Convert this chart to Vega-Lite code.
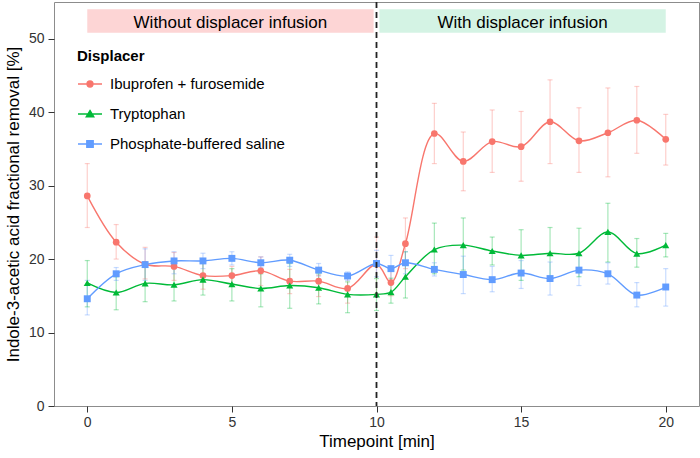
{
  "$schema": "https://vega.github.io/schema/vega-lite/v6.json",
  "width": 645,
  "height": 404,
  "autosize": {"type": "none"},
  "padding": {"left": 54, "top": 2, "right": 1, "bottom": 52},
  "background": "white",
  "config": {
    "font": "Liberation Sans",
    "view": {"stroke": "#8c8c8c", "strokeWidth": 1},
    "axis": {"grid": false, "domain": false, "tickColor": "#333333", "tickSize": 6, "labelColor": "#333333", "labelFontSize": 14, "titleFontSize": 17, "titleFontWeight": "normal", "titleColor": "black"},
    "legend": {"orient": "none", "padding": 0, "labelFontSize": 15, "labelColor": "black", "labelOffset": 7, "labelLimit": 300, "symbolSize": 576, "symbolStrokeWidth": 1.3, "symbolOpacity": 1, "titleFontSize": 15, "titleFontWeight": "bold", "titleColor": "black", "titlePadding": 7}
  },
  "datasets": {
    "bands": [
      {"label": "Without displacer infusion", "x0": 0, "x1": 9.9, "xc": 4.95, "y0": 50.8, "y1": 54.0, "yc": 52.1},
      {"label": "With displacer infusion", "x0": 10.1, "x1": 20, "xc": 15.05, "y0": 50.8, "y1": 54.0, "yc": 52.1}
    ],
    "vline": [{"x": 10}],
    "leg": [
      {"L1": "Ibuprofen + furosemide", "L2": "Tryptophan", "L3": "Phosphate-buffered saline"}
    ],
    "series": [
      {"d": "Ibuprofen + furosemide", "t": 0, "m": 28.6, "lo": 24.3, "hi": 33.0},
      {"d": "Ibuprofen + furosemide", "t": 1, "m": 22.3, "lo": 20.0, "hi": 24.7},
      {"d": "Ibuprofen + furosemide", "t": 2, "m": 19.3, "lo": 17.3, "hi": 21.6},
      {"d": "Ibuprofen + furosemide", "t": 3, "m": 19.0, "lo": 17.1, "hi": 20.9},
      {"d": "Ibuprofen + furosemide", "t": 4, "m": 17.75, "lo": 15.9, "hi": 19.5},
      {"d": "Ibuprofen + furosemide", "t": 5, "m": 17.75, "lo": 16.6, "hi": 19.0},
      {"d": "Ibuprofen + furosemide", "t": 6, "m": 18.4, "lo": 16.4, "hi": 20.3},
      {"d": "Ibuprofen + furosemide", "t": 7, "m": 17.0, "lo": 15.3, "hi": 18.6},
      {"d": "Ibuprofen + furosemide", "t": 8, "m": 17.0, "lo": 14.9, "hi": 17.8},
      {"d": "Ibuprofen + furosemide", "t": 9, "m": 16.0, "lo": 14.0, "hi": 17.6},
      {"d": "Ibuprofen + furosemide", "t": 10, "m": 19.3, "lo": 15.3, "hi": 23.0},
      {"d": "Ibuprofen + furosemide", "t": 10.5, "m": 16.8, "lo": 15.0, "hi": 18.6},
      {"d": "Ibuprofen + furosemide", "t": 11, "m": 22.1, "lo": 18.7, "hi": 25.6},
      {"d": "Ibuprofen + furosemide", "t": 12, "m": 37.1, "lo": 33.0, "hi": 41.2},
      {"d": "Ibuprofen + furosemide", "t": 13, "m": 33.3, "lo": 29.3, "hi": 37.3},
      {"d": "Ibuprofen + furosemide", "t": 14, "m": 36.0, "lo": 31.8, "hi": 40.3},
      {"d": "Ibuprofen + furosemide", "t": 15, "m": 35.3, "lo": 30.6, "hi": 40.1},
      {"d": "Ibuprofen + furosemide", "t": 16, "m": 38.7, "lo": 33.0, "hi": 44.4},
      {"d": "Ibuprofen + furosemide", "t": 17, "m": 36.1, "lo": 31.8, "hi": 40.6},
      {"d": "Ibuprofen + furosemide", "t": 18, "m": 37.2, "lo": 31.2, "hi": 43.3},
      {"d": "Ibuprofen + furosemide", "t": 19, "m": 38.9, "lo": 34.4, "hi": 43.5},
      {"d": "Ibuprofen + furosemide", "t": 20, "m": 36.3, "lo": 32.8, "hi": 39.7},
      {"d": "Tryptophan", "t": 0, "m": 16.75, "lo": 13.5, "hi": 19.8},
      {"d": "Tryptophan", "t": 1, "m": 15.45, "lo": 13.1, "hi": 17.6},
      {"d": "Tryptophan", "t": 2, "m": 16.7, "lo": 14.2, "hi": 19.4},
      {"d": "Tryptophan", "t": 3, "m": 16.5, "lo": 14.3, "hi": 19.4},
      {"d": "Tryptophan", "t": 4, "m": 17.2, "lo": 15.1, "hi": 19.6},
      {"d": "Tryptophan", "t": 5, "m": 16.6, "lo": 14.3, "hi": 18.7},
      {"d": "Tryptophan", "t": 6, "m": 16.0, "lo": 13.5, "hi": 18.0},
      {"d": "Tryptophan", "t": 7, "m": 16.4, "lo": 13.3, "hi": 19.4},
      {"d": "Tryptophan", "t": 8, "m": 16.1, "lo": 13.9, "hi": 18.0},
      {"d": "Tryptophan", "t": 9, "m": 15.2, "lo": 12.7, "hi": 16.9},
      {"d": "Tryptophan", "t": 10, "m": 15.2, "lo": 13.0, "hi": 17.35},
      {"d": "Tryptophan", "t": 10.5, "m": 15.5, "lo": 14.0, "hi": 17.4},
      {"d": "Tryptophan", "t": 11, "m": 17.6, "lo": 14.7, "hi": 21.0},
      {"d": "Tryptophan", "t": 12, "m": 21.3, "lo": 18.0, "hi": 24.9},
      {"d": "Tryptophan", "t": 13, "m": 21.9, "lo": 18.5, "hi": 25.6},
      {"d": "Tryptophan", "t": 14, "m": 21.1, "lo": 19.2, "hi": 23.0},
      {"d": "Tryptophan", "t": 15, "m": 20.5, "lo": 17.1, "hi": 24.0},
      {"d": "Tryptophan", "t": 16, "m": 20.8, "lo": 17.4, "hi": 24.3},
      {"d": "Tryptophan", "t": 17, "m": 20.8, "lo": 17.6, "hi": 24.2},
      {"d": "Tryptophan", "t": 18, "m": 23.7, "lo": 19.6, "hi": 27.6},
      {"d": "Tryptophan", "t": 19, "m": 20.75, "lo": 18.9, "hi": 22.8},
      {"d": "Tryptophan", "t": 20, "m": 21.9, "lo": 20.3, "hi": 23.5},
      {"d": "Phosphate-buffered saline", "t": 0, "m": 14.6, "lo": 12.4, "hi": 17.1},
      {"d": "Phosphate-buffered saline", "t": 1, "m": 18.0, "lo": 17.1, "hi": 18.85},
      {"d": "Phosphate-buffered saline", "t": 2, "m": 19.25, "lo": 17.1, "hi": 21.4},
      {"d": "Phosphate-buffered saline", "t": 3, "m": 19.75, "lo": 18.0, "hi": 21.0},
      {"d": "Phosphate-buffered saline", "t": 4, "m": 19.75, "lo": 18.7, "hi": 20.8},
      {"d": "Phosphate-buffered saline", "t": 5, "m": 20.1, "lo": 19.2, "hi": 21.0},
      {"d": "Phosphate-buffered saline", "t": 6, "m": 19.5, "lo": 18.85, "hi": 20.3},
      {"d": "Phosphate-buffered saline", "t": 7, "m": 19.85, "lo": 19.0, "hi": 20.65},
      {"d": "Phosphate-buffered saline", "t": 8, "m": 18.5, "lo": 17.7, "hi": 19.4},
      {"d": "Phosphate-buffered saline", "t": 9, "m": 17.7, "lo": 17.1, "hi": 18.25},
      {"d": "Phosphate-buffered saline", "t": 10, "m": 19.4, "lo": 17.6, "hi": 21.2},
      {"d": "Phosphate-buffered saline", "t": 10.5, "m": 18.7, "lo": 17.1, "hi": 20.5},
      {"d": "Phosphate-buffered saline", "t": 11, "m": 19.5, "lo": 18.0, "hi": 21.0},
      {"d": "Phosphate-buffered saline", "t": 12, "m": 18.6, "lo": 17.7, "hi": 19.5},
      {"d": "Phosphate-buffered saline", "t": 13, "m": 17.9, "lo": 15.3, "hi": 20.4},
      {"d": "Phosphate-buffered saline", "t": 14, "m": 17.2, "lo": 15.55, "hi": 19.0},
      {"d": "Phosphate-buffered saline", "t": 15, "m": 18.1, "lo": 16.0, "hi": 19.8},
      {"d": "Phosphate-buffered saline", "t": 16, "m": 17.35, "lo": 15.1, "hi": 19.6},
      {"d": "Phosphate-buffered saline", "t": 17, "m": 18.5, "lo": 16.4, "hi": 20.6},
      {"d": "Phosphate-buffered saline", "t": 18, "m": 18.0, "lo": 16.6, "hi": 19.5},
      {"d": "Phosphate-buffered saline", "t": 19, "m": 15.1, "lo": 13.5, "hi": 16.8},
      {"d": "Phosphate-buffered saline", "t": 20, "m": 16.2, "lo": 13.6, "hi": 18.7}
    ]
  },
  "resolve": {"scale": {"shape": "independent"}},
  "layer": [
    {
      "data": {"name": "bands"},
      "mark": {"type": "rect"},
      "encoding": {
        "x": {"field": "x0", "type": "quantitative", "title": "Timepoint [min]", "scale": {"domain": [-1.15, 21.15], "nice": false, "zero": false}, "axis": {"values": [0, 5, 10, 15, 20], "labelPadding": 3, "titlePadding": 4}},
        "x2": {"field": "x1"},
        "y": {"field": "y0", "type": "quantitative", "title": "Indole-3-acetic acid fractional removal [%]", "scale": {"domain": [0, 55], "nice": false, "zero": true}, "axis": {"values": [0, 10, 20, 30, 40, 50], "labelPadding": 4, "titlePadding": 6}},
        "y2": {"field": "y1"},
        "color": {"condition": {"test": "datum.x0 < 5", "value": "#fdd5d5"}, "value": "#d4f3e4"}
      }
    },
    {
      "data": {"name": "bands"},
      "mark": {"type": "text", "fontSize": 17, "color": "black", "align": "center", "baseline": "middle"},
      "encoding": {
        "x": {"field": "xc", "type": "quantitative", "title": "Timepoint [min]"},
        "y": {"field": "yc", "type": "quantitative", "title": "Indole-3-acetic acid fractional removal [%]"},
        "text": {"field": "label"}
      }
    },
    {
      "data": {"name": "series"},
      "mark": {"type": "rule", "strokeWidth": 1.2, "opacity": 0.35},
      "encoding": {
        "x": {"field": "t", "type": "quantitative", "title": "Timepoint [min]"},
        "y": {"field": "lo", "type": "quantitative", "title": "Indole-3-acetic acid fractional removal [%]"},
        "y2": {"field": "hi"},
        "color": {"field": "d", "type": "nominal", "legend": null, "scale": {"domain": ["Phosphate-buffered saline", "Ibuprofen + furosemide", "Tryptophan"], "range": ["#619CFF", "#F8766D", "#00BA38"]}}
      }
    },
    {
      "data": {"name": "series"},
      "mark": {"type": "tick", "orient": "horizontal", "size": 5, "thickness": 1.2, "opacity": 0.35},
      "encoding": {
        "x": {"field": "t", "type": "quantitative", "title": "Timepoint [min]"},
        "y": {"field": "lo", "type": "quantitative", "title": "Indole-3-acetic acid fractional removal [%]"},
        "color": {"field": "d", "type": "nominal", "legend": null}
      }
    },
    {
      "data": {"name": "series"},
      "mark": {"type": "tick", "orient": "horizontal", "size": 5, "thickness": 1.2, "opacity": 0.35},
      "encoding": {
        "x": {"field": "t", "type": "quantitative", "title": "Timepoint [min]"},
        "y": {"field": "hi", "type": "quantitative", "title": "Indole-3-acetic acid fractional removal [%]"},
        "color": {"field": "d", "type": "nominal", "legend": null}
      }
    },
    {
      "data": {"name": "series"},
      "mark": {"type": "line", "interpolate": "catmull-rom", "strokeWidth": 1.4},
      "encoding": {
        "x": {"field": "t", "type": "quantitative", "title": "Timepoint [min]"},
        "y": {"field": "m", "type": "quantitative", "title": "Indole-3-acetic acid fractional removal [%]"},
        "color": {"field": "d", "type": "nominal", "legend": null},
        "detail": {"field": "d"}
      }
    },
    {
      "data": {"name": "series"},
      "transform": [{"filter": "datum.d == 'Ibuprofen + furosemide'"}],
      "mark": {"type": "point", "filled": true, "opacity": 1, "size": 45, "shape": "circle"},
      "encoding": {
        "x": {"field": "t", "type": "quantitative", "title": "Timepoint [min]"},
        "y": {"field": "m", "type": "quantitative", "title": "Indole-3-acetic acid fractional removal [%]"},
        "color": {"field": "d", "type": "nominal", "legend": null}
      }
    },
    {
      "data": {"name": "series"},
      "transform": [{"filter": "datum.d == 'Tryptophan'"}],
      "mark": {"type": "point", "filled": true, "opacity": 1, "size": 50, "shape": "triangle-up"},
      "encoding": {
        "x": {"field": "t", "type": "quantitative", "title": "Timepoint [min]"},
        "y": {"field": "m", "type": "quantitative", "title": "Indole-3-acetic acid fractional removal [%]"},
        "color": {"field": "d", "type": "nominal", "legend": null}
      }
    },
    {
      "data": {"name": "series"},
      "transform": [{"filter": "datum.d == 'Phosphate-buffered saline'"}],
      "mark": {"type": "point", "filled": true, "opacity": 1, "size": 48, "shape": "square"},
      "encoding": {
        "x": {"field": "t", "type": "quantitative", "title": "Timepoint [min]"},
        "y": {"field": "m", "type": "quantitative", "title": "Indole-3-acetic acid fractional removal [%]"},
        "color": {"field": "d", "type": "nominal", "legend": null}
      }
    },
    {
      "data": {"name": "vline"},
      "mark": {"type": "rule", "color": "#222222", "strokeWidth": 1.8, "strokeDash": [6, 4]},
      "encoding": {
        "x": {"field": "x", "type": "quantitative", "title": "Timepoint [min]"}
      }
    },
    {
      "data": {"name": "leg"},
      "mark": {"type": "point", "filled": true, "size": 576, "opacity": 0, "color": "#F8766D", "stroke": "#F8766D", "strokeWidth": 1.3},
      "encoding": {
        "shape": {
          "field": "L1", "type": "nominal",
          "scale": {"range": ["M-1,0H1M0.25,0A0.25,0.25 0 1 1 -0.25,0A0.25,0.25 0 1 1 0.25,0Z"]},
          "legend": {"title": "Displacer", "legendX": 23, "legendY": 47}
        }
      }
    },
    {
      "data": {"name": "leg"},
      "mark": {"type": "point", "filled": true, "size": 576, "opacity": 0, "color": "#00BA38", "stroke": "#00BA38", "strokeWidth": 1.3},
      "encoding": {
        "shape": {
          "field": "L2", "type": "nominal",
          "scale": {"range": ["M-1,0H1M0,-0.3L0.32,0.24L-0.32,0.24Z"]},
          "legend": {"title": null, "legendX": 23, "legendY": 99}
        }
      }
    },
    {
      "data": {"name": "leg"},
      "mark": {"type": "point", "filled": true, "size": 576, "opacity": 0, "color": "#619CFF", "stroke": "#619CFF", "strokeWidth": 1.3},
      "encoding": {
        "shape": {
          "field": "L3", "type": "nominal",
          "scale": {"range": ["M-1,0H1M-0.27,-0.27H0.27V0.27H-0.27Z"]},
          "legend": {"title": null, "legendX": 23, "legendY": 129}
        }
      }
    }
  ]
}
